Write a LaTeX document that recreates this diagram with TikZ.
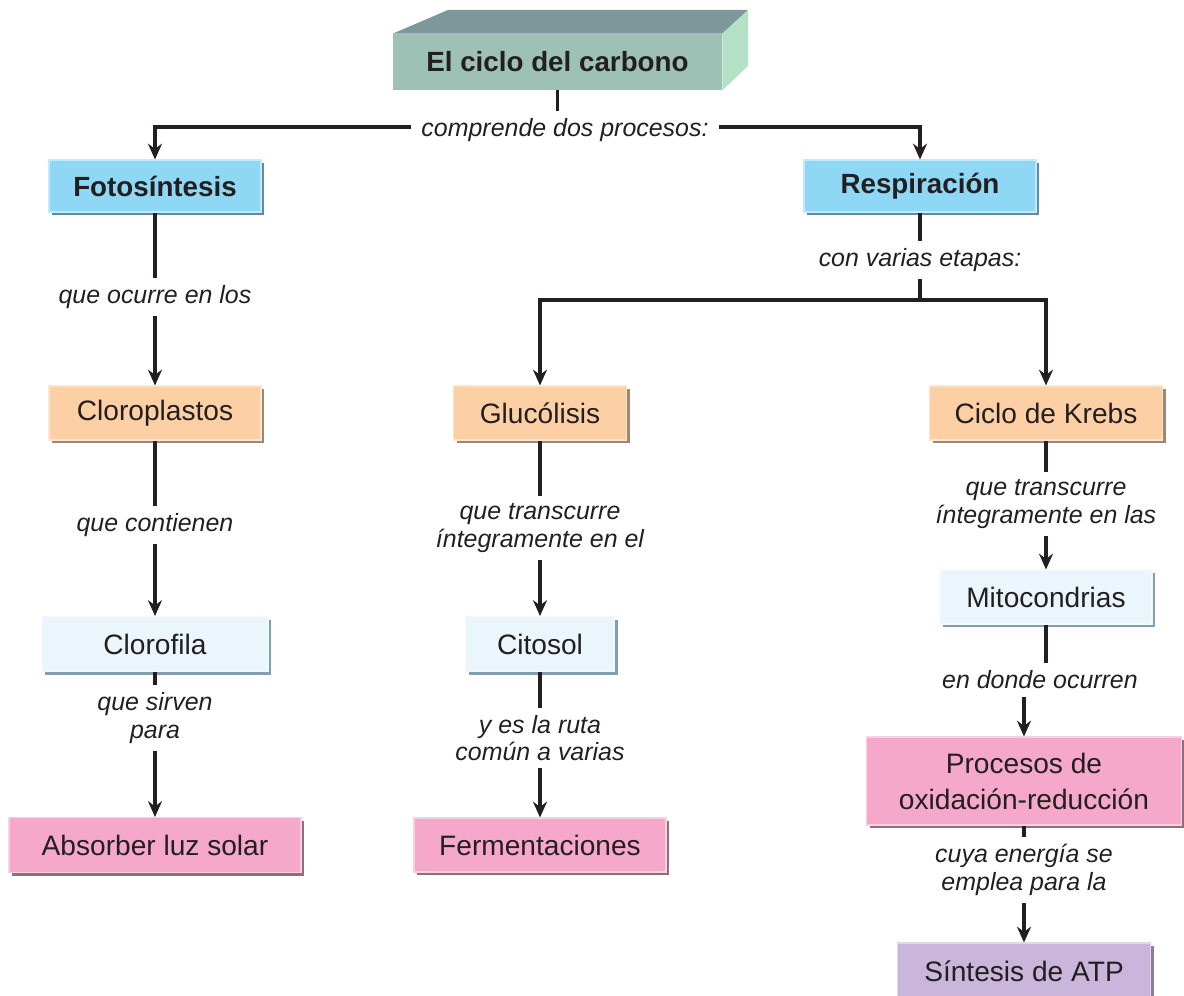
\documentclass[tikz,border=0pt]{standalone}
\usepackage{fontspec}
\setmainfont{Liberation Sans}
\usetikzlibrary{arrows.meta,shadows}
\definecolor{txt}{HTML}{231F20}
\definecolor{titlefront}{HTML}{9DC1B5}
\definecolor{titletop}{HTML}{7E979A}
\definecolor{titleside}{HTML}{B4E0C6}
\definecolor{blueF}{HTML}{8ED8F6}
\definecolor{blueS}{HTML}{6688A8}
\definecolor{peachF}{HTML}{FDCFA5}
\definecolor{peachS}{HTML}{A08870}
\definecolor{paleF}{HTML}{EAF5FC}
\definecolor{paleS}{HTML}{7FA0B0}
\definecolor{pinkF}{HTML}{F5A8C9}
\definecolor{pinkS}{HTML}{8E6F7C}
\definecolor{lavF}{HTML}{C9B6DA}
\definecolor{lavS}{HTML}{8C7E9C}
\begin{document}
\begin{tikzpicture}[x=0.02cm,y=-0.02cm,
  sz/.style 2 args={minimum width=#1*0.02cm, minimum height=#2*0.02cm},
  boxbase/.style 2 args={rectangle, inner sep=2pt, align=center, text=txt,
    font=\fontsize{16}{20.5}\selectfont, fill=#1, draw=white!45!#1, line width=0.6pt,
    general shadow={fill=#2, shadow xshift=1.8pt, shadow yshift=-1.8pt}},
  bluebox/.style={boxbase={blueF}{blueS}, font=\bfseries\fontsize{15.8}{20}\selectfont},
  peachbox/.style={boxbase={peachF}{peachS}},
  palebox/.style={boxbase={paleF}{paleS}},
  pinkbox/.style={boxbase={pinkF}{pinkS}},
  lavbox/.style={boxbase={lavF}{lavS}},
  lab/.style={font=\itshape\fontsize{14.2}{15.8}\selectfont, align=center, inner sep=4pt, text=txt},
  conn/.style={draw=txt, line width=1.8pt},
  arr/.style={-{Stealth[length=9pt,width=8pt,inset=3pt]}}
]
\clip (0,0) rectangle (1184,996);
\useasboundingbox (0,0) rectangle (1184,996);

% Title block
\node[rectangle, fill=titlefront, sz={329}{56}, text=txt,
      font=\bfseries\fontsize{15.8}{20}\selectfont] (title) at (557.5,62) {El ciclo del carbono};
\fill[titletop] (title.north west) -- (448,10) -- (748,10) -- (title.north east) -- cycle;
\fill[titleside] (title.north east) -- (748,10) -- (748,66) -- (title.south east) -- cycle;

% Boxes
\node[bluebox, sz={212}{52}] (foto) at (155,186) {Fotosíntesis};
\node[bluebox, sz={232}{52}] (resp) at (920,186) {Respiración};
\node[peachbox, sz={212}{54}] (cloro) at (155,413) {Cloroplastos};
\node[palebox, sz={226}{55}] (clorofila) at (155,644) {Clorofila};
\node[pinkbox, sz={292}{55}] (absorber) at (155,845) {Absorber luz solar};
\node[peachbox, sz={173}{54}] (gluc) at (540,413) {Glucólisis};
\node[palebox, sz={149}{55}] (citosol) at (540,644) {Citosol};
\node[pinkbox, sz={252}{54}] (ferm) at (540,845) {Fermentaciones};
\node[peachbox, sz={233}{54}] (krebs) at (1046,413) {Ciclo de Krebs};
\node[palebox, sz={212}{54}] (mito) at (1046,597) {Mitocondrias};
\node[pinkbox, sz={315}{88}] (proc) at (1024,781) {Procesos de\\oxidación-reducción};
\node[lavbox, sz={253}{57}] (atp) at (1024,971.5) {Síntesis de ATP};

% Top split
\coordinate (j1) at (557.5,127);
\draw[conn] (title.south) -- (j1);
\draw[conn,arr] (j1) -| (foto.north);
\draw[conn,arr] (j1) -| (resp.north);
\node[lab, fill=white, inner xsep=6pt] (l0) at (565,130) {comprende dos procesos:};

% Left column
\node[lab] (l1) at (155,297) {que ocurre en los};
\draw[conn] (foto) -- (l1);
\draw[conn,arr] (l1) -- (cloro);
\node[lab] (l2) at (155,525) {que contienen};
\draw[conn] (cloro) -- (l2);
\draw[conn,arr] (l2) -- (clorofila);
\node[lab] (l3) at (155,718) {que sirven\\para};
\draw[conn] (clorofila) -- (l3);
\draw[conn,arr] (l3) -- (absorber);

% Respiration split
\node[lab] (l5) at (920,260) {con varias etapas:};
\coordinate (j2) at (920,300);
\draw[conn] (resp) -- (l5);
\draw[conn] (l5) -- (j2);
\draw[conn,arr] (j2) -| (gluc.north);
\draw[conn,arr] (j2) -| (krebs.north);

% Middle column
\node[lab] (l6) at (540,528) {que transcurre\\íntegramente en el};
\draw[conn] (gluc) -- (l6);
\draw[conn,arr] (l6) -- (citosol);
\node[lab] (l7) at (540,738) {y es la ruta\\común a varias};
\draw[conn] (citosol) -- (l7);
\draw[conn,arr] (l7) -- (ferm);

% Right column
\node[lab] (l8) at (1046,504) {que transcurre\\íntegramente en las};
\draw[conn] (krebs) -- (l8);
\draw[conn,arr] (l8) -- (mito);
\node[lab] (l9) at (1040,680) {en donde ocurren};
\draw[conn] (mito.south) -- (mito.south |- l9.north);
\draw[conn,arr] (l9.south -| proc.north) -- (proc.north);
\node[lab] (l10) at (1024,870) {cuya energía se\\emplea para la};
\draw[conn] (proc) -- (l10);
\draw[conn,arr] (l10) -- (atp);
\end{tikzpicture}
\end{document}
